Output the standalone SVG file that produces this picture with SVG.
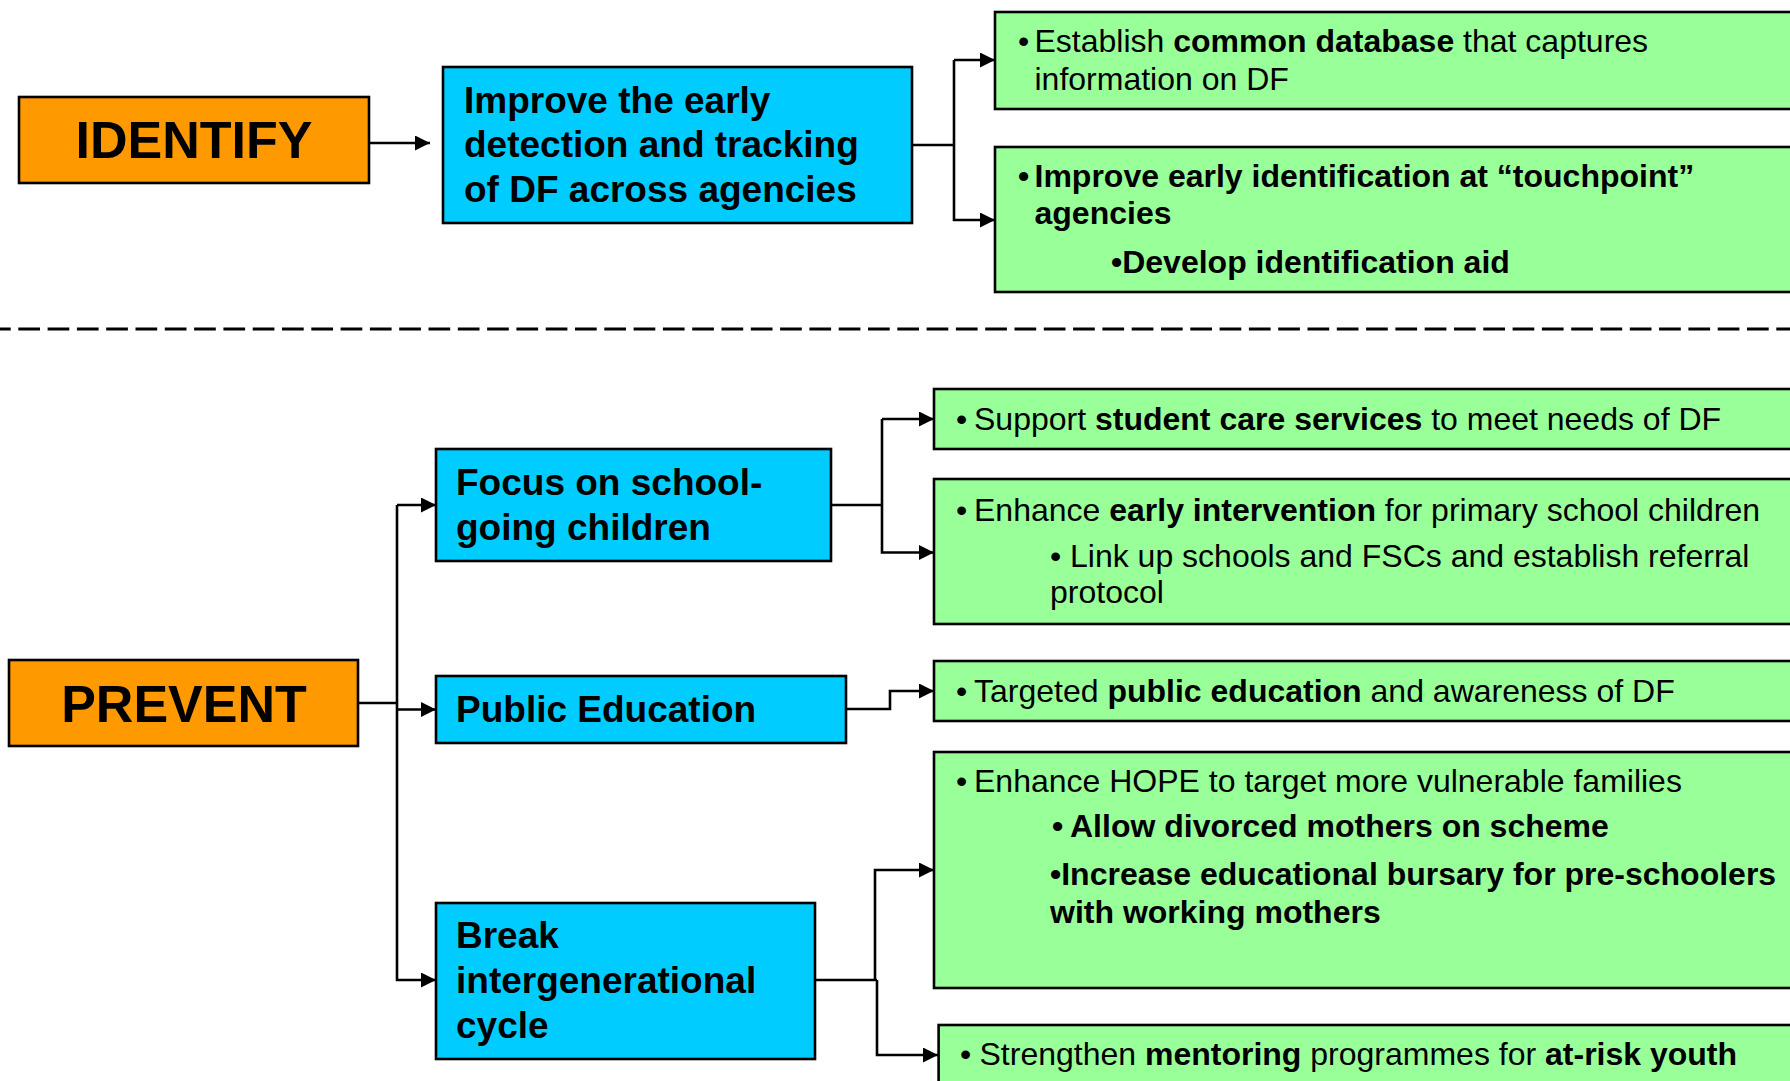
<svg xmlns="http://www.w3.org/2000/svg" width="1790" height="1081" viewBox="0 0 1790 1081">
<defs>
<style>
.orange{fill:#FF9900;stroke:#000;stroke-width:2.6}
.blue{fill:#00CCFF;stroke:#000;stroke-width:2.6}
.green{fill:#99FF99;stroke:#000;stroke-width:2.6}
text{font-family:"Liberation Sans",Arial,sans-serif;fill:#000}
.big{font-size:52px;font-weight:bold}
.mid{font-size:37px;font-weight:bold}
.sm{font-size:32px}
.b{font-weight:bold}
.conn{fill:none;stroke:#000;stroke-width:2.6}
</style>
<marker id="ah" markerUnits="userSpaceOnUse" markerWidth="16" markerHeight="16" refX="15" refY="7.5" orient="auto">
<path d="M0,0 L15,7.5 L0,15 Z" fill="#000"/>
</marker>
</defs>
<rect width="1790" height="1081" fill="#fff"/>

<g id="connectors">
<line class="conn" x1="369" y1="143" x2="430" y2="143" marker-end="url(#ah)"/>
<path class="conn" d="M912,145 H954"/>
<path class="conn" d="M954,60 V220 H995" marker-end="url(#ah)"/>
<line class="conn" x1="954" y1="60" x2="995" y2="60" marker-end="url(#ah)"/>
<line x1="0" y1="329" x2="1790" y2="329" stroke="#000" stroke-width="3" stroke-dasharray="21.7 7.6" stroke-dashoffset="11"/>
<path class="conn" d="M358,703 H397"/>
<path class="conn" d="M397,505 V980 H436" marker-end="url(#ah)"/>
<line class="conn" x1="397" y1="505" x2="436" y2="505" marker-end="url(#ah)"/>
<line class="conn" x1="397" y1="709.5" x2="436" y2="709.5" marker-end="url(#ah)"/>
<path class="conn" d="M831,505 H882"/>
<path class="conn" d="M882,419 V552.5 H934" marker-end="url(#ah)"/>
<line class="conn" x1="882" y1="419" x2="934" y2="419" marker-end="url(#ah)"/>
<path class="conn" d="M846,709 H890 V691 H934" marker-end="url(#ah)"/>
<path class="conn" d="M815,980 H877"/>
<path class="conn" d="M875,980 V870 H934" marker-end="url(#ah)"/>
<path class="conn" d="M877,980 V1055 H938" marker-end="url(#ah)"/>
</g>

<g id="identify">
<rect class="orange" x="19" y="97" width="350" height="86"/>
<text class="big" x="194" y="158" text-anchor="middle">IDENTIFY</text>
</g>

<g id="improve-detection">
<rect class="blue" x="443" y="67" width="469" height="156"/>
<text class="mid"><tspan x="464" y="113">Improve the early</tspan><tspan x="464" y="157">detection and tracking</tspan><tspan x="464" y="202">of DF across agencies</tspan></text>
</g>

<g id="common-database">
<rect class="green" x="995" y="12" width="810" height="97"/>
<text class="sm"><tspan x="1018" y="52">•</tspan><tspan x="1034.5" y="52">Establish <tspan class="b">common database</tspan> that captures</tspan><tspan x="1034.5" y="89.5">information on DF</tspan></text>
</g>

<g id="early-identification">
<rect class="green" x="995" y="147" width="810" height="145"/>
<text class="sm b"><tspan x="1018" y="187">•</tspan><tspan x="1034.5" y="187">Improve early identification at “touchpoint”</tspan><tspan x="1034.5" y="224">agencies</tspan><tspan x="1111" y="273">•Develop identification aid</tspan></text>
</g>

<g id="prevent">
<rect class="orange" x="9" y="660" width="349" height="86"/>
<text class="big" x="184" y="722" text-anchor="middle">PREVENT</text>
</g>

<g id="school-going">
<rect class="blue" x="436" y="449" width="395" height="112"/>
<text class="mid"><tspan x="456" y="495">Focus on school-</tspan><tspan x="456" y="540">going children</tspan></text>
</g>

<g id="public-education">
<rect class="blue" x="436" y="676" width="410" height="67"/>
<text class="mid" x="456" y="722">Public Education</text>
</g>

<g id="break-cycle">
<rect class="blue" x="436" y="903" width="379" height="156"/>
<text class="mid"><tspan x="456" y="948">Break</tspan><tspan x="456" y="993">intergenerational</tspan><tspan x="456" y="1038">cycle</tspan></text>
</g>

<g id="student-care">
<rect class="green" x="934" y="389" width="870" height="60"/>
<text class="sm"><tspan x="956" y="430">•</tspan><tspan x="974" y="430">Support <tspan class="b">student care services</tspan> to meet needs of DF</tspan></text>
</g>

<g id="early-intervention">
<rect class="green" x="934" y="479" width="870" height="145"/>
<text class="sm"><tspan x="956" y="521">•</tspan><tspan x="974" y="521">Enhance <tspan class="b">early intervention</tspan> for primary school children</tspan><tspan x="1050" y="567">•</tspan><tspan x="1070" y="567">Link up schools and FSCs and establish referral</tspan><tspan x="1050" y="603">protocol</tspan></text>
</g>

<g id="targeted-education">
<rect class="green" x="934" y="661" width="870" height="60"/>
<text class="sm"><tspan x="956" y="702">•</tspan><tspan x="974" y="702">Targeted <tspan class="b">public education</tspan> and awareness of DF</tspan></text>
</g>

<g id="hope">
<rect class="green" x="934" y="752" width="870" height="236"/>
<text class="sm"><tspan x="956" y="792">•</tspan><tspan x="974" y="792">Enhance HOPE to target more vulnerable families</tspan><tspan class="b" x="1052" y="837">•</tspan><tspan class="b" x="1070" y="837">Allow divorced mothers on scheme</tspan><tspan class="b" x="1050" y="885">•Increase educational bursary for pre-schoolers</tspan><tspan class="b" x="1050" y="923">with working mothers</tspan></text>
</g>

<g id="mentoring">
<rect class="green" x="938.6" y="1025" width="870" height="80"/>
<text class="sm"><tspan x="960" y="1065">•</tspan><tspan x="979.5" y="1065">Strengthen <tspan class="b">mentoring</tspan> programmes for <tspan class="b">at-risk youth</tspan></tspan></text>
</g>
</svg>
